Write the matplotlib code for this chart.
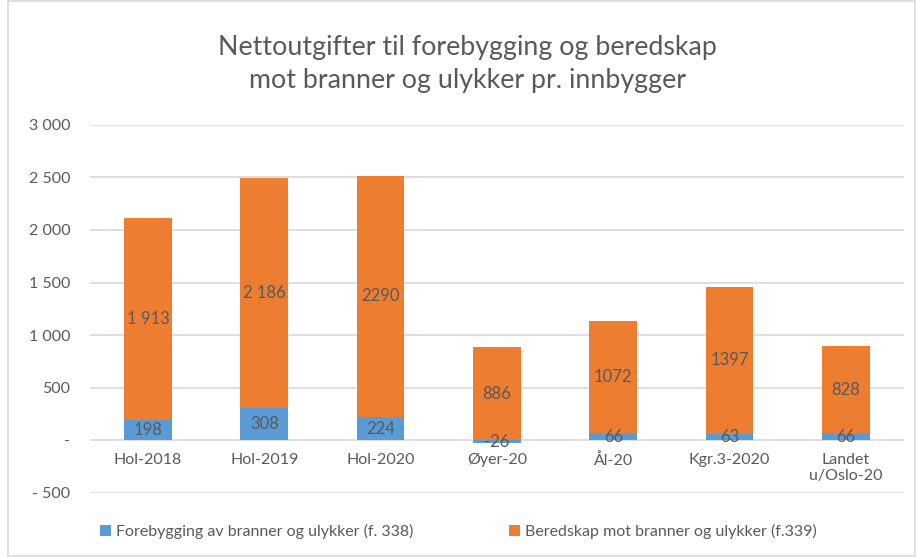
import matplotlib.pyplot as plt
from matplotlib.patches import Rectangle

# Netto utgifter pr. innbygger, kroner
kategorier = ["Hol-2018", "Hol-2019", "Hol-2020", "Øyer-20", "Ål-20", "Kgr.3-2020", "Landet\nu/Oslo-20"]
forebygging = [198, 308, 224, -26, 66, 63, 66]
beredskap = [1913, 2186, 2290, 886, 1072, 1397, 828]
forebygging_tekst = ["198", "308", "224", "-26", "66", "63", "66"]
beredskap_tekst = ["1 913", "2 186", "2290", "886", "1072", "1397", "828"]
y_ticks = [-500, 0, 500, 1000, 1500, 2000, 2500, 3000]
y_tick_tekst = ["- 500", "-", "500", "1 000", "1 500", "2 000", "2 500", "3 000"]

BLA = "#5B9BD5"
ORANSJE = "#ED7D31"
GRA_TEKST = "#595959"

plt.rcParams["font.family"] = ["Lato", "DejaVu Sans"]

fig = plt.figure(figsize=(9.16, 5.57), dpi=100)
ax = fig.add_axes([0.098, 0.115, 0.889, 0.661])

x = list(range(len(kategorier)))
bredde = 0.41

# negative verdier stables under null, positive bygger fra toppen av forrige
bunn_beredskap = [max(v, 0) for v in forebygging]
ax.bar(x, forebygging, width=bredde, color=BLA, label="Forebygging av branner og ulykker (f. 338)", zorder=3)
ax.bar(x, beredskap, width=bredde, bottom=bunn_beredskap, color=ORANSJE,
       label="Beredskap mot branner og ulykker (f.339)", zorder=3)

for i in x:
    ax.text(i, forebygging[i] / 2, forebygging_tekst[i], ha="center", va="center",
            fontsize=12, color=GRA_TEKST, zorder=4)
    ax.text(i, bunn_beredskap[i] + beredskap[i] / 2, beredskap_tekst[i], ha="center", va="center",
            fontsize=12, color=GRA_TEKST, zorder=4)

ax.set_xlim(-0.5, len(kategorier) - 0.5)
ax.set_ylim(-500, 3000)
ax.set_yticks(y_ticks)
ax.set_yticklabels(y_tick_tekst)
ax.set_xticks(x)
ax.set_xticklabels(kategorier)

for s in ax.spines.values():
    s.set_visible(False)
ax.spines["bottom"].set_position(("data", 0))
ax.tick_params(axis="both", length=0, colors=GRA_TEKST, labelsize=11.5)
ax.tick_params(axis="y", pad=14)
ax.tick_params(axis="x", pad=9)
ax.grid(axis="y", color="#D9D9D9", linewidth=1.2, zorder=0)
ax.set_axisbelow(True)

fig.text(0.51, 0.885, "Nettoutgifter til forebygging og beredskap\nmot branner og ulykker pr. innbygger",
         ha="center", va="center", fontsize=19.3, color=GRA_TEKST, linespacing=1.4)

fig.legend(loc="center", bbox_to_anchor=(0.5, 0.045), ncol=2, frameon=False, fontsize=11.5,
           handlelength=0.7, handleheight=0.7, handletextpad=0.3, columnspacing=6, labelcolor=GRA_TEKST)

fig.patches.append(Rectangle((0.009, 0.002), 0.99, 0.996, transform=fig.transFigure,
                             fill=False, edgecolor="#D9D9D9", linewidth=1.2))

fig.savefig("out.png", dpi=100)
